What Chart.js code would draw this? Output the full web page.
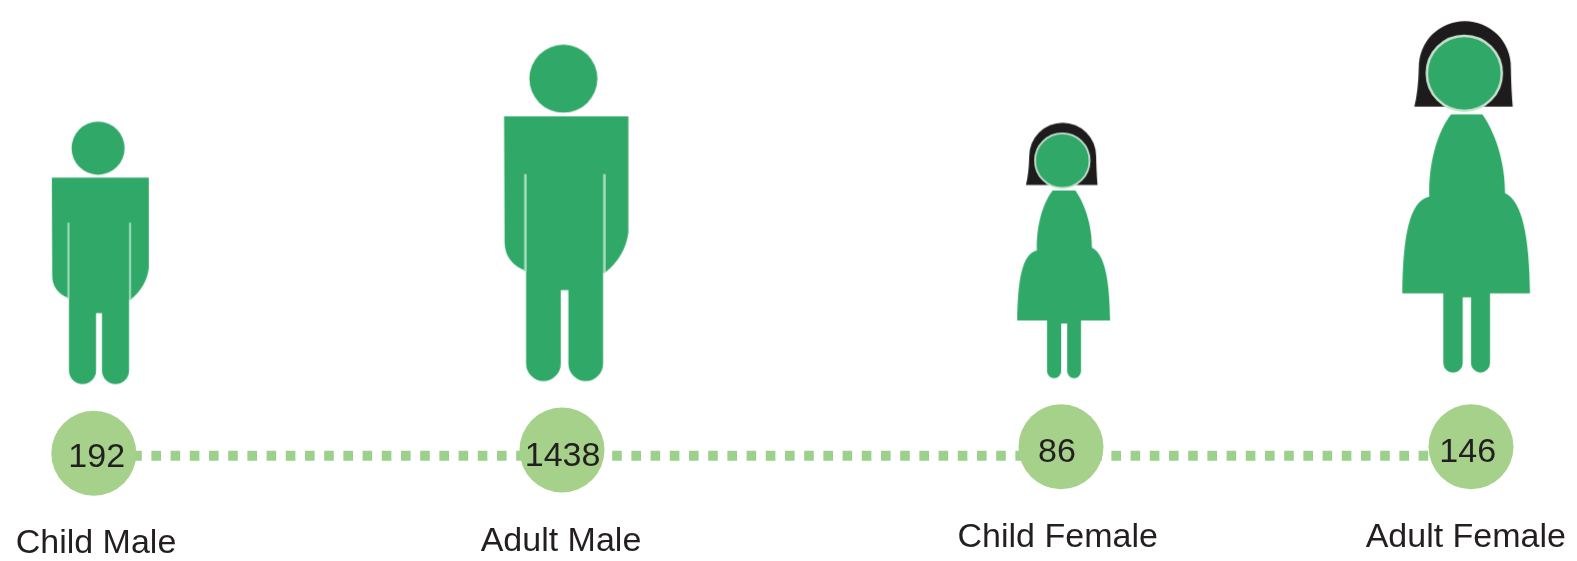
<!DOCTYPE html>
<html>
<head>
<meta charset="utf-8">
<style>
html,body{margin:0;padding:0;background:#fff;overflow:hidden}
canvas{display:block}
</style>
<script src="https://cdn.jsdelivr.net/npm/chart.js@4"></script>
</head>
<body>
<canvas id="c" width="1577" height="561"></canvas>
<script>
// ---- data ----
const categories = ['Child Male', 'Adult Male', 'Child Female', 'Adult Female'];
const values = [192, 1438, 86, 146];

// ---- layout (page positions on the 1577x561 scales) ----
const circleX = [93.8, 562, 1061, 1471];
const circleY = [453.3, 450, 446.8, 446.8];
const lineY = 455.7;
const valueX = [96.7, 562.6, 1057, 1467.7];
const valueY = [458, 456.3, 453, 452.5];
const labelX = [96, 561, 1057.7, 1465.8];
const labelY = [543.5, 541.5, 538, 538];
const figureX = [100.3, 566.2, 1063.65, 1466.15];
const figureY = [252.85, 212.85, 250.5, 196.85];
const figureKind = ['male', 'male', 'female', 'female'];
const figureScale = [0.78, 1, 0.727, 1];

// ---- styles ----
const GREEN = '#30a868', SLIT = '#a9e0c2', HAIR = '#1d1b1c', RING = '#c6e2cf';
const CIRCLE = '#a6d18b', DOT = '#9dd08b', INK = '#231f20';
const FONT = '34px "Liberation Sans", Arial, sans-serif';

function drawMale(g) {
  g.fillStyle = GREEN;
  g.beginPath(); g.arc(59.3, 34, 34, 0, Math.PI * 2); g.fill();
  g.beginPath();
  g.moveTo(0, 71.6); g.lineTo(124.3, 71.6); g.lineTo(124.3, 188);
  g.quadraticCurveTo(121, 212, 101, 228);
  g.lineTo(99, 228); g.lineTo(99, 319);
  g.arc(81.65, 319, 17.35, 0, Math.PI);
  g.lineTo(64.3, 245.3); g.lineTo(56.7, 245.3); g.lineTo(56.7, 319);
  g.arc(39.35, 319, 17.35, 0, Math.PI);
  g.lineTo(22, 226); g.lineTo(21, 226);
  g.quadraticCurveTo(1, 218, 0.5, 198);
  g.closePath(); g.fill();
  g.strokeStyle = SLIT; g.lineWidth = 2.5;
  g.beginPath();
  g.moveTo(21.3, 129.3); g.lineTo(21.3, 227);
  g.moveTo(100.3, 129.3); g.lineTo(100.3, 228);
  g.stroke();
}
function drawFemale(g) {
  g.fillStyle = HAIR;
  g.beginPath();
  g.moveTo(12, 85.7);
  g.quadraticCurveTo(16, 70, 16.5, 46);
  g.arc(62.5, 46, 46, Math.PI, 0);
  g.quadraticCurveTo(109, 70, 110.4, 85.7);
  g.closePath(); g.fill();
  g.fillStyle = GREEN;
  g.beginPath();
  g.moveTo(48.7, 93.3); g.lineTo(80, 93.3);
  g.bezierCurveTo(92, 110, 103, 140, 102.7, 172);
  g.bezierCurveTo(120, 180, 127, 215, 127.7, 272.3);
  g.lineTo(87.7, 272.3); g.lineTo(87.7, 342);
  g.arc(78.2, 342, 9.5, 0, Math.PI);
  g.lineTo(68.7, 276.3); g.lineTo(60.4, 276.3); g.lineTo(60.4, 342);
  g.arc(50.7, 342, 9.7, 0, Math.PI);
  g.lineTo(41, 272.3); g.lineTo(0, 272.3);
  g.bezierCurveTo(0.7, 215, 7, 180, 27, 175.7);
  g.bezierCurveTo(26, 145, 34, 112, 48.7, 93.3);
  g.closePath(); g.fill();
  g.beginPath(); g.arc(62, 52.3, 37.5, 0, Math.PI * 2);
  g.fill();
  g.strokeStyle = RING; g.lineWidth = 2.5; g.stroke();
}
const figureBox = { male: [124.3, 336.3], female: [127.7, 351.7] };
function makeFigure(kind, s) {
  const [bw, bh] = figureBox[kind];
  const pad = 6;
  const cv = document.createElement('canvas');
  cv.width = Math.ceil(bw * s) + pad * 2;
  cv.height = Math.ceil(bh * s) + pad * 2;
  const g = cv.getContext('2d');
  g.filter = 'blur(0.4px)';
  g.translate((cv.width - bw * s) / 2, (cv.height - bh * s) / 2);
  g.scale(s, s);
  (kind === 'male' ? drawMale : drawFemale)(g);
  return cv;
}
const figures = categories.map((c, i) => makeFigure(figureKind[i], figureScale[i]));

const textPlugin = {
  id: 'pictoText',
  afterDatasetsDraw(chart) {
    const { ctx, scales: { x, y } } = chart;
    ctx.save();
    ctx.font = FONT;
    ctx.fillStyle = INK;
    ctx.textAlign = 'center';
    ctx.textBaseline = 'middle';
    categories.forEach((c, i) => {
      ctx.fillText(String(values[i]), x.getPixelForValue(valueX[i]), y.getPixelForValue(valueY[i]));
      ctx.fillText(c, x.getPixelForValue(labelX[i]), y.getPixelForValue(labelY[i]));
    });
    ctx.restore();
  }
};

new Chart(document.getElementById('c'), {
  type: 'scatter',
  data: {
    datasets: [
      {
        label: 'Connector',
        data: categories.map((c, i) => ({ x: circleX[i], y: lineY })),
        showLine: true,
        borderColor: DOT,
        borderWidth: 10,
        borderDash: [9.6, 9.6],
        borderCapStyle: 'butt',
        tension: 0,
        pointRadius: 0,
        order: 3,
        clip: false
      },
      {
        label: 'Count',
        data: categories.map((c, i) => ({ x: circleX[i], y: circleY[i] })),
        backgroundColor: CIRCLE,
        borderWidth: 0,
        pointRadius: 42.5,
        order: 2,
        clip: false
      },
      {
        label: 'Figures',
        data: categories.map((c, i) => ({ x: figureX[i], y: figureY[i] })),
        pointStyle: ctx => figures[ctx.dataIndex],
        pointRadius: 1,
        order: 1,
        clip: false
      }
    ]
  },
  options: {
    responsive: false,
    animation: false,
    events: [],
    layout: { padding: 0, autoPadding: false },
    plugins: { legend: { display: false }, tooltip: { enabled: false }, title: { display: false } },
    scales: {
      x: { type: 'linear', min: 0, max: 1577, display: false },
      y: { type: 'linear', min: 0, max: 561, reverse: true, display: false }
    }
  },
  plugins: [textPlugin]
});
</script>
</body>
</html>
